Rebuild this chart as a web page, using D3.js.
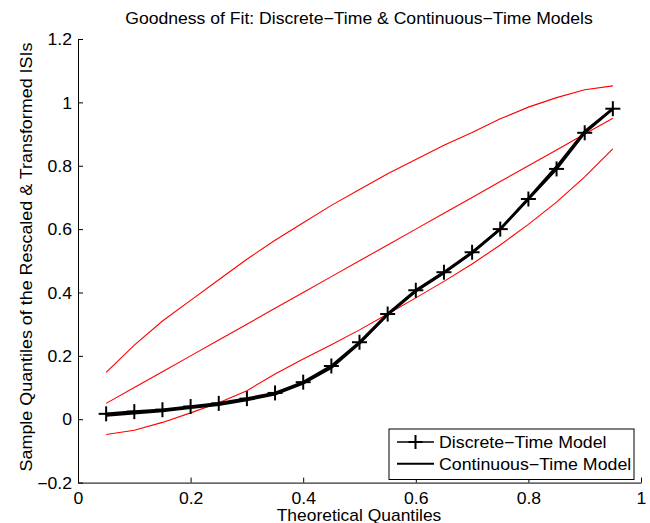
<!DOCTYPE html>
<html>
<head>
<meta charset="utf-8">
<script src="https://cdn.jsdelivr.net/npm/d3@7"></script>
<style>
  body { margin: 0; background: #fff; }
  text { font-family: "Liberation Sans", Arial, sans-serif; fill: #000; }
</style>
</head>
<body>
<div class="chart"></div>
<script>
// theoretical quantiles
const quantiles = [0.05, 0.10, 0.15, 0.20, 0.25, 0.30, 0.35, 0.40, 0.45, 0.50,
                   0.55, 0.60, 0.65, 0.70, 0.75, 0.80, 0.85, 0.90, 0.95]

// sample quantiles, discrete-time model (with + markers)
const discreteVals = [0.017, 0.024, 0.03, 0.04, 0.05, 0.065, 0.083, 0.117, 0.168, 0.243,
                      0.332, 0.407, 0.464, 0.527, 0.600, 0.695, 0.790, 0.904, 0.980]

// continuous-time model, lies almost on top of the discrete one
const continuousVals = [0.012, 0.019, 0.026, 0.036, 0.046, 0.061, 0.079, 0.113, 0.163, 0.240,
                        0.330, 0.404, 0.462, 0.525, 0.600, 0.697, 0.797, 0.908, 0.980]

// confidence bounds (red)
const upperBound = [0.148, 0.234, 0.31, 0.375, 0.44, 0.505, 0.565, 0.62, 0.675, 0.725,
                    0.775, 0.82, 0.865, 0.905, 0.948, 0.985, 1.015, 1.04, 1.052]
const lowerBound = [-0.048, -0.035, -0.01, 0.02, 0.052, 0.09, 0.143, 0.19, 0.235, 0.282,
                    0.332, 0.383, 0.435, 0.49, 0.55, 0.615, 0.685, 0.765, 0.853]

const xTicks = [0, 0.2, 0.4, 0.6, 0.8, 1]
const yTicks = [-0.2, 0, 0.2, 0.4, 0.6, 0.8, 1, 1.2]

const w = 650
const h = 523
const padL = 78, padR = 641, padT = 39, padB = 482.6

// the original text renders a bit wider than Arial, so stretch it horizontally
const tickStretch = 1.1

const svg = d3.select(".chart")
  .append("svg")
  .attr("width", w)
  .attr("height", h)

const xScale = d3.scaleLinear().domain([0, 1]).range([padL, padR])
const yScale = d3.scaleLinear().domain([-0.2, 1.2]).range([padB, padT])

const fmt = t => t === 0 ? "0" : (t < 0 ? "\u2212" + Math.abs(t) : String(t))

// x axis, ticks pointing inward
const xAxis = d3.axisBottom(xScale)
  .tickValues(xTicks)
  .tickSizeInner(-5)
  .tickSizeOuter(0)
  .tickFormat(fmt)

svg.append("g")
  .attr("transform", "translate(0," + padB + ")")
  .call(xAxis)
  .call(g => g.selectAll("text")
    .attr("font-size", 16)
    .attr("font-family", "Liberation Sans, Arial, sans-serif")
    .attr("y", 21).attr("dy", 0)
    .attr("transform", "scale(" + tickStretch + ",1)"))
  .call(g => g.selectAll("line, path").attr("stroke", "#000"))

const yAxis = d3.axisLeft(yScale)
  .tickValues(yTicks)
  .tickSizeInner(-5)
  .tickSizeOuter(0)
  .tickFormat(fmt)

svg.append("g")
  .attr("transform", "translate(" + padL + ",0)")
  .call(yAxis)
  .call(g => g.selectAll("text")
    .attr("font-size", 16)
    .attr("font-family", "Liberation Sans, Arial, sans-serif")
    .attr("x", -6 / tickStretch).attr("dy", "0.36em")
    .attr("transform", "scale(" + tickStretch + ",1)"))
  .call(g => g.selectAll("line, path").attr("stroke", "#000"))

const line = vals => d3.line()
  .x((d, i) => xScale(quantiles[i]))
  .y(d => yScale(d))(vals)

// red bands and diagonal
const redLines = [upperBound, quantiles, lowerBound]
svg.selectAll(".band")
  .data(redLines)
  .enter()
  .append("path")
    .attr("class", "band")
    .attr("d", d => line(d))
    .attr("fill", "none")
    .attr("stroke", "#ff0000")
    .attr("stroke-width", 1.1)

// continuous model
svg.append("path")
  .attr("d", line(continuousVals))
  .attr("fill", "none")
  .attr("stroke", "#000")
  .attr("stroke-width", 2.6)

// discrete model
svg.append("path")
  .attr("d", line(discreteVals))
  .attr("fill", "none")
  .attr("stroke", "#000")
  .attr("stroke-width", 2.6)

const plus = (g, x, y, s) => {
  g.append("line").attr("x1", x - s).attr("x2", x + s).attr("y1", y).attr("y2", y)
  g.append("line").attr("x1", x).attr("x2", x).attr("y1", y - s).attr("y2", y + s)
}

const marks = svg.append("g").attr("stroke", "#000").attr("stroke-width", 2)
discreteVals.forEach((v, i) => plus(marks, xScale(quantiles[i]), yScale(v), 7.5))

// stretched text helper
const label = (x, y, str, size, sx, rot) => {
  svg.append("text")
    .attr("transform", "translate(" + x + "," + y + ")" + (rot ? " rotate(" + rot + ")" : "") + " scale(" + sx + ",1)")
    .attr("text-anchor", "middle")
    .attr("font-size", size)
    .text(str)
}

label(359, 24, "Goodness of Fit: Discrete\u2212Time & Continuous\u2212Time Models", 16, 1.1)
label(359, 520.5, "Theoretical Quantiles", 16, 1.09)
label(32, 257, "Sample Quantiles of the Rescaled & Transformed ISIs", 16, 1.12, -90)

// legend
const lx = 389, ly = 429
const legend = svg.append("g")
legend.append("rect")
  .attr("x", lx).attr("y", ly)
  .attr("width", 245).attr("height", 50.5)
  .attr("fill", "#fff").attr("stroke", "#000").attr("stroke-width", 1)

const legendItems = ["Discrete\u2212Time Model", "Continuous\u2212Time Model"]
legendItems.forEach((name, i) => {
  const yy = ly + 13 + i * 21.8
  legend.append("line")
    .attr("x1", lx + 8).attr("x2", lx + 45)
    .attr("y1", yy).attr("y2", yy)
    .attr("stroke", "#000").attr("stroke-width", i === 0 ? 1.5 : 2)
  if (i === 0) {
    const lg = legend.append("g").attr("stroke", "#000").attr("stroke-width", 2)
    plus(lg, lx + 26.5, yy, 7)
  }
  legend.append("text")
    .attr("transform", "translate(" + (lx + 50) + "," + (yy + 5.8) + ") scale(1.11,1)")
    .attr("font-size", 16)
    .text(name)
})
</script>
</body>
</html>
